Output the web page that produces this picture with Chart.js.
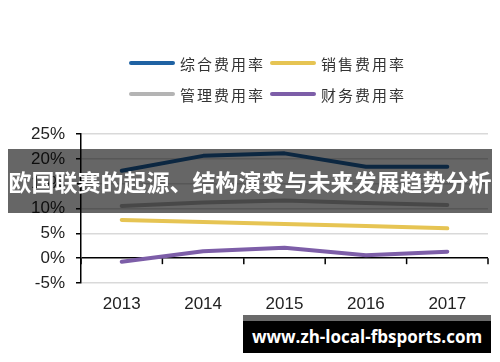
<!DOCTYPE html>
<html>
<head>
<meta charset="utf-8">
<script src="https://cdn.jsdelivr.net/npm/chart.js@4.4.0/dist/chart.umd.min.js"></script>
<style>
  html, body { margin: 0; padding: 0; background: #fff; }
  #wrap { position: relative; width: 500px; height: 362px; overflow: hidden; background: #fff; }
  #grafico { position: absolute; left: 0; top: 0; }
  .item { position: absolute; display: flex; align-items: center; height: 20px; }
  .swatch { width: 46px; height: 4px; border-radius: 2px; margin-right: 5px; }
  .txt { font: 15px "Noto Sans CJK SC"; letter-spacing: 2px; color: #333; white-space: nowrap; }
  #banner {
    position: absolute; left: 8px; top: 149px; width: 484px; height: 64px;
    background: rgba(0, 0, 0, 0.6); color: #fff;
    font: bold 23px "Noto Sans CJK SC"; line-height: 64px;
    text-align: center; white-space: nowrap;
  }
  #markTop { position: absolute; left: 243px; top: 315px; width: 248px; height: 6px; background: #6a6a6a; }
  #mark {
    position: absolute; left: 243px; top: 321px; width: 248px; height: 32px;
    background: #000; color: #fff; font: bold 17px "Open Sans";
    line-height: 32px; text-align: center; white-space: nowrap;
  }
</style>
</head>
<body>
<div id="wrap">
  <canvas id="grafico" width="500" height="362"></canvas>
  <div id="legenda"></div>
  <div id="banner">欧国联赛的起源、结构演变与未来发展趋势分析</div>
  <div id="markTop"></div>
  <div id="mark">www.zh-local-fbsports.com</div>
</div>
<script>
const anos = ["2013", "2014", "2015", "2016", "2017"];
const nomesSeries = ["综合费用率", "销售费用率", "管理费用率", "财务费用率"];
const coresSeries = ["#1f62a3", "#e6c453", "#b4b4b4", "#7d5ea8"];

const taxaTotal = [17.6, 20.6, 21.1, 18.4, 18.4];
const taxaVendas = [7.7, 7.3, 6.9, 6.5, 6.0];
const taxaAdmin = [10.5, 11.2, 11.6, 11.1, 10.7];
const taxaFinanceira = [-0.7, 1.4, 2.1, 0.6, 1.3];

const valoresSeries = [taxaTotal, taxaVendas, taxaAdmin, taxaFinanceira];

// posições da legenda (2 x 2)
const legendaColunas = [129, 270];
const legendaLinhas = [63, 94];

// marcas de divisão no eixo zero
const ticksZero = {
  id: "ticksZero",
  beforeDatasetsDraw(chart) {
    const xs = chart.scales.x;
    const ys = chart.scales.y;
    const ctx = chart.ctx;
    const y0 = ys.getPixelForValue(0);
    const meio = (xs.getPixelForValue(1) - xs.getPixelForValue(0)) / 2;
    ctx.save();
    ctx.strokeStyle = "#000";
    ctx.lineWidth = 1.5;
    for (let i = 0; i <= anos.length; i++) {
      const px = i < anos.length ? xs.getPixelForValue(i) - meio : xs.getPixelForValue(anos.length - 1) + meio;
      ctx.beginPath();
      ctx.moveTo(px, y0);
      ctx.lineTo(px, y0 + 6);
      ctx.stroke();
    }
    ctx.restore();
  }
};

const datasets = valoresSeries.map((valores, i) => ({
  label: nomesSeries[i],
  data: valores,
  borderColor: coresSeries[i],
  backgroundColor: coresSeries[i],
  borderWidth: 4,
  borderCapStyle: "round",
  borderJoinStyle: "round",
  pointRadius: 0,
  tension: 0
}));

const chart = new Chart(document.getElementById("grafico").getContext("2d"), {
  type: "line",
  data: { labels: anos, datasets },
  options: {
    responsive: false,
    animation: false,
    layout: { padding: { top: 134, right: 12, left: 0, bottom: 0 } },
    plugins: {
      legend: { display: false },
      tooltip: { enabled: false }
    },
    scales: {
      x: {
        offset: true,
        grid: { display: false, drawTicks: false },
        border: { display: false },
        ticks: {
          padding: 11,
          color: "#222",
          font: { family: "'Liberation Sans', Arial", size: 17 }
        },
        afterFit: scale => { scale.height = 79; }
      },
      y: {
        min: -5,
        max: 25,
        grid: {
          color: c => (c.tick && c.tick.value === 0 ? "#000" : "#d9d9d9"),
          lineWidth: 1.5,
          drawTicks: true,
          tickLength: 5,
          tickColor: "#000"
        },
        border: { display: true, color: "#000", width: 1.5 },
        ticks: {
          stepSize: 5,
          padding: 11,
          color: "#222",
          font: { family: "'Liberation Sans', Arial", size: 17 },
          callback: v => v + "%"
        },
        afterFit: scale => { scale.width = 81; }
      }
    }
  },
  plugins: [ticksZero]
});

// legenda em HTML a partir dos itens do próprio Chart.js
const legenda = document.getElementById("legenda");
const itens = Chart.defaults.plugins.legend.labels.generateLabels(chart);
itens.forEach((item, i) => {
  const div = document.createElement("div");
  div.className = "item";
  div.style.left = legendaColunas[i % 2] + "px";
  div.style.top = (legendaLinhas[Math.floor(i / 2)] - 10) + "px";
  const sw = document.createElement("span");
  sw.className = "swatch";
  sw.style.background = item.strokeStyle;
  const tx = document.createElement("span");
  tx.className = "txt";
  tx.textContent = item.text;
  div.appendChild(sw);
  div.appendChild(tx);
  legenda.appendChild(div);
});
</script>
</body>
</html>
